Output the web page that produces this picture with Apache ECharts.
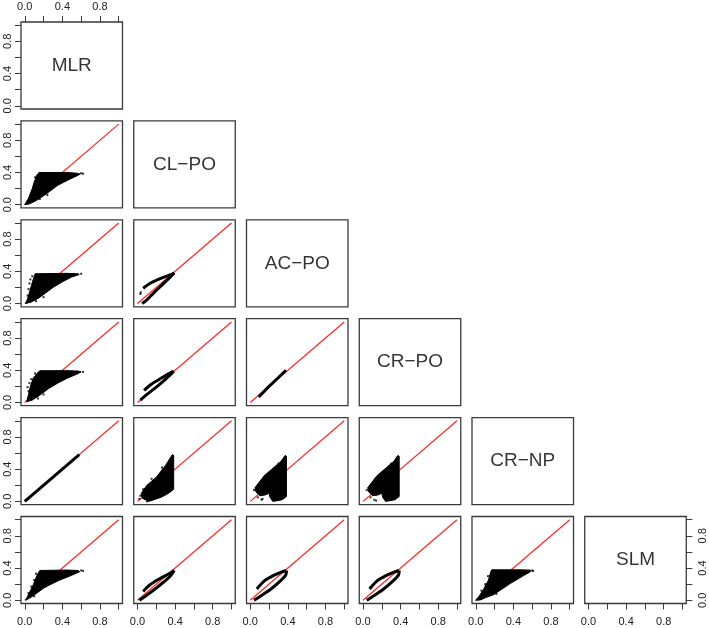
<!DOCTYPE html>
<html>
<head>
<meta charset="utf-8">
<script src="https://cdn.jsdelivr.net/npm/echarts@6/dist/echarts.min.js"></script>
<style>html,body{margin:0;padding:0;background:#fff}#c{width:709px;height:628px}</style>
</head>
<body>
<div id="c"></div>
<script>
// ---- data ----
const varNames = ["MLR", "CL\u2212PO", "AC\u2212PO", "CR\u2212PO", "CR\u2212NP", "SLM"];
const tickValues = [0, 0.2, 0.4, 0.6, 0.8, 1.0];
const labelValues = [0, 0.4, 0.8];
const refLine = [[0, 0], [1, 1]];

// dense point clouds (outlines of the black regions), [x, y]
const cloudMLR_CLPO = [[0.0,0.0],[0.04,0.08],[0.08,0.2],[0.1,0.28],[0.12,0.34],[0.15,0.4],[0.45,0.4],[0.56,0.39],[0.59,0.38],[0.55,0.355],[0.45,0.3],[0.35,0.24],[0.26,0.16],[0.2,0.11],[0.12,0.05],[0.05,0.01]];
const strayMLR_CLPO = [[0.11,0.34],[0.13,0.36],[0.05,0.07],[0.09,0.165],[0.6,0.39],[0.62,0.385],[0.07,0.1],[0.24,0.12],[0.16,0.07]];
const cloudMLR_ACPO = [[0.01,0.0],[0.03,0.06],[0.05,0.14],[0.07,0.22],[0.09,0.3],[0.11,0.37],[0.45,0.375],[0.57,0.37],[0.58,0.36],[0.5,0.33],[0.4,0.27],[0.3,0.2],[0.22,0.13],[0.15,0.07],[0.07,0.02]];
const strayMLR_ACPO = [[0.05,0.25],[0.06,0.3],[0.04,0.18],[0.08,0.34],[0.6,0.37],[0.12,0.03],[0.2,0.08],[0.03,0.1]];
const cloudMLR_CRPO = [[0.02,0.01],[0.04,0.1],[0.06,0.2],[0.09,0.3],[0.13,0.36],[0.16,0.395],[0.45,0.395],[0.57,0.39],[0.6,0.38],[0.56,0.355],[0.45,0.3],[0.35,0.24],[0.25,0.17],[0.16,0.09],[0.08,0.03]];
const strayMLR_CRPO = [[0.04,0.14],[0.05,0.24],[0.07,0.29],[0.11,0.36],[0.62,0.38],[0.14,0.05],[0.2,0.1],[0.03,0.19]];
const bandMLR_CRNP = [[0.0,0.0],[0.58,0.58]];
const cloudMLR_SLM = [[0.01,0.0],[0.03,0.05],[0.06,0.12],[0.09,0.19],[0.12,0.28],[0.14,0.33],[0.16,0.37],[0.45,0.375],[0.57,0.37],[0.585,0.355],[0.5,0.31],[0.37,0.25],[0.28,0.2],[0.2,0.15],[0.13,0.09],[0.07,0.04]];
const strayMLR_SLM = [[0.07,0.17],[0.1,0.25],[0.12,0.33],[0.6,0.37],[0.62,0.365],[0.1,0.05],[0.04,0.09]];

const armUpCLPO_ACPO = [[0.06,0.19],[0.13,0.25],[0.24,0.31],[0.345,0.355],[0.39,0.38]];
const armLoCLPO_ACPO = [[0.05,0.0],[0.1,0.045],[0.17,0.13],[0.26,0.23],[0.345,0.325],[0.39,0.38]];
const strayCLPO_ACPO = [[0.03,0.12],[0.035,0.14]];
const armUpCLPO_CRPO = [[0.07,0.15],[0.15,0.23],[0.25,0.3],[0.33,0.355],[0.385,0.39]];
const armLoCLPO_CRPO = [[0.03,0.03],[0.1,0.1],[0.2,0.19],[0.3,0.29],[0.385,0.385]];
const cloudCLPO_CRNP = [[0.37,0.58],[0.385,0.57],[0.385,0.15],[0.33,0.1],[0.25,0.05],[0.12,0.0],[0.05,0.04],[0.04,0.1],[0.1,0.2],[0.2,0.3],[0.3,0.45]];
const strayCLPO_CRNP = [[0.03,0.07],[0.06,0.15],[0.15,0.28],[0.26,0.42],[0.1,0.0],[0.02,0.03]];
const armUpCLPO_SLM = [[0.06,0.11],[0.13,0.19],[0.24,0.27],[0.345,0.335],[0.39,0.37]];
const armLoCLPO_SLM = [[0.02,0.0],[0.13,0.09],[0.24,0.19],[0.345,0.295],[0.39,0.37]];

const bandACPO_CRPO = [[0.09,0.07],[0.2,0.2],[0.3,0.31],[0.38,0.4]];
const cloudACPO_CRNP = [[0.37,0.57],[0.385,0.56],[0.385,0.06],[0.34,0.02],[0.24,0.0],[0.21,0.05],[0.2,0.1],[0.16,0.08],[0.1,0.07],[0.06,0.12],[0.05,0.17],[0.09,0.23],[0.15,0.32],[0.25,0.42],[0.33,0.5]];
const strayACPO_CRNP = [[0.12,0.02],[0.13,0.03],[0.04,0.14],[0.08,0.05],[0.2,0.35],[0.3,0.47]];
const armUpACPO_SLM = [[0.07,0.14],[0.15,0.24],[0.25,0.31],[0.33,0.35],[0.38,0.37]];
const armLoACPO_SLM = [[0.04,0.0],[0.12,0.06],[0.22,0.14],[0.32,0.24],[0.38,0.32],[0.385,0.37]];

const cloudCRPO_CRNP = [[0.37,0.57],[0.385,0.56],[0.385,0.06],[0.34,0.02],[0.24,0.0],[0.21,0.05],[0.2,0.1],[0.16,0.08],[0.1,0.07],[0.06,0.12],[0.05,0.17],[0.09,0.23],[0.15,0.32],[0.25,0.42],[0.33,0.5]];
const strayCRPO_CRNP = [[0.12,0.02],[0.14,0.01],[0.04,0.14],[0.08,0.05],[0.2,0.35],[0.3,0.47]];
const armUpCRPO_SLM = [[0.07,0.14],[0.15,0.24],[0.25,0.31],[0.33,0.35],[0.38,0.37]];
const armLoCRPO_SLM = [[0.04,0.0],[0.12,0.06],[0.22,0.14],[0.32,0.24],[0.38,0.32],[0.385,0.37]];

const cloudCRNP_SLM = [[0.0,0.0],[0.03,0.04],[0.08,0.13],[0.135,0.25],[0.16,0.355],[0.17,0.378],[0.45,0.378],[0.58,0.375],[0.585,0.357],[0.5,0.3],[0.37,0.21],[0.28,0.14],[0.19,0.07],[0.1,0.03],[0.05,0.005]];
const strayCRNP_SLM = [[0.06,0.12],[0.1,0.2],[0.13,0.3],[0.6,0.37],[0.61,0.365],[0.22,0.08]];

// panel contents: key "row,col" (row = y variable, col = x variable)
const panels = {
  "1,0": {clouds: [cloudMLR_CLPO], stray: strayMLR_CLPO},
  "2,0": {clouds: [cloudMLR_ACPO], stray: strayMLR_ACPO},
  "3,0": {clouds: [cloudMLR_CRPO], stray: strayMLR_CRPO},
  "4,0": {bands: [bandMLR_CRNP]},
  "5,0": {clouds: [cloudMLR_SLM], stray: strayMLR_SLM},
  "2,1": {arms: [armUpCLPO_ACPO, armLoCLPO_ACPO], stray: strayCLPO_ACPO},
  "3,1": {arms: [armUpCLPO_CRPO, armLoCLPO_CRPO]},
  "4,1": {clouds: [cloudCLPO_CRNP], stray: strayCLPO_CRNP},
  "5,1": {arms: [armUpCLPO_SLM, armLoCLPO_SLM]},
  "3,2": {bands: [bandACPO_CRPO]},
  "4,2": {clouds: [cloudACPO_CRNP], stray: strayACPO_CRNP},
  "5,2": {arms: [armUpACPO_SLM, armLoACPO_SLM]},
  "4,3": {clouds: [cloudCRPO_CRNP], stray: strayCRPO_CRNP},
  "5,3": {arms: [armUpCRPO_SLM, armLoCRPO_SLM]},
  "5,4": {clouds: [cloudCRNP_SLM], stray: strayCRNP_SLM}
};

// ---- layout ----
const L0 = 21, PX = 112.75, PW = 101.5, T0 = 22, PY = 98.9, PH = 87;
const N = 6;
const FONT = "'Liberation Sans', Arial, Helvetica, sans-serif";

const grids = [], xAxes = [], yAxes = [], series = [];
let gi = 0;
for (let r = 0; r < N; r++) {
  for (let c = 0; c <= r; c++) {
    grids.push({left: L0 + PX * c, top: T0 + PY * r, width: PW, height: PH,
      show: true, borderColor: '#3a3a3a', borderWidth: 1.3, backgroundColor: 'transparent', containLabel: false});
    const showX = (r === 0 && c === 0) || r === N - 1;
    const showY = c === 0 || (r === N - 1 && c === N - 1);
    const tickCfg = {show: true, inside: false, customValues: tickValues, length: 6, lineStyle: {color: '#3a3a3a', width: 1}};
    xAxes.push({gridIndex: gi, type: 'value', min: -0.04, max: 1.04, show: showX,
      position: r === 0 ? 'top' : 'bottom',
      axisLine: {show: false, onZero: false}, splitLine: {show: false}, axisTick: tickCfg,
      axisLabel: {customValues: labelValues, fontSize: 11, color: '#222', fontFamily: FONT, margin: r === 0 ? 10 : 13,
        formatter: v => v.toFixed(1)}});
    yAxes.push({gridIndex: gi, type: 'value', min: -0.04, max: 1.04, show: showY,
      position: c === 0 ? 'left' : 'right',
      axisLine: {show: false, onZero: false}, splitLine: {show: false}, axisTick: tickCfg,
      axisLabel: {customValues: labelValues, fontSize: 11, color: '#222', fontFamily: FONT, rotate: 90,
        margin: c === 0 ? 8 : 11, formatter: v => v.toFixed(1)}});
    if (r === c) {
      series.push({type: 'scatter', xAxisIndex: gi, yAxisIndex: gi, symbolSize: 0,
        data: [{name: varNames[r], value: [0.5, 0.5]}],
        label: {show: true, position: 'inside', formatter: '{b}', fontSize: 19, color: '#000', fontFamily: FONT},
        silent: true});
    } else {
      series.push({type: 'line', xAxisIndex: gi, yAxisIndex: gi, data: refLine, showSymbol: false,
        lineStyle: {color: '#ff2a2a', width: 1.3}, z: 1, silent: true, animation: false});
      const p = panels[r + ',' + c] || {};
      (p.clouds || []).forEach(poly => {
        series.push({type: 'custom', xAxisIndex: gi, yAxisIndex: gi, data: [[0, 0]], z: 3, silent: true,
          renderItem: (params, api) => ({type: 'polygon',
            shape: {points: poly.map(pt => api.coord(pt))},
            style: {fill: '#000', stroke: '#000', lineWidth: 1}})});
      });
      (p.bands || []).forEach(b => {
        series.push({type: 'line', xAxisIndex: gi, yAxisIndex: gi, data: b, showSymbol: false,
          lineStyle: {color: '#000', width: 3}, z: 3, silent: true, animation: false});
      });
      (p.arms || []).forEach(a => {
        series.push({type: 'line', xAxisIndex: gi, yAxisIndex: gi, data: a, showSymbol: false, smooth: 0.3,
          lineStyle: {color: '#000', width: 3}, z: 3, silent: true, animation: false});
      });
      if (p.stray) {
        series.push({type: 'scatter', xAxisIndex: gi, yAxisIndex: gi, data: p.stray, symbol: 'rect',
          symbolSize: 2, itemStyle: {color: '#000'}, z: 3, silent: true, animation: false});
      }
    }
    gi++;
  }
}

const chart = echarts.init(document.getElementById('c'), null, {renderer: 'canvas'});
chart.setOption({animation: false, backgroundColor: '#fff', grid: grids, xAxis: xAxes, yAxis: yAxes, series: series});
</script>
</body>
</html>
